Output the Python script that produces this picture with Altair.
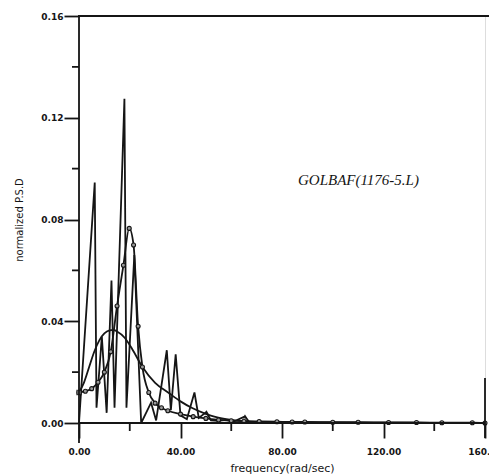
import altair as alt
import pandas as pd

# Raw periodogram (normalized PSD vs frequency, rad/sec)
raw_freq = [0.0, 6.2, 6.9, 9.0, 10.9, 12.8, 14.0, 17.9, 18.7, 21.8, 24.5, 28.4,
            30.4, 34.6, 36.2, 38.1, 40.0, 42.5, 45.5, 47.2, 50.2, 52.0, 55.0,
            58.0, 61.0, 65.4, 67.0, 72.0, 80.0, 90.0, 100.0, 120.0, 140.0, 160.0]
raw_psd = [0.0, 0.0945, 0.006, 0.034, 0.004, 0.056, 0.006, 0.1275, 0.006, 0.066,
           0.0, 0.008, 0.001, 0.0286, 0.005, 0.027, 0.003, 0.0015, 0.012, 0.002,
           0.0043, 0.001, 0.0008, 0.0012, 0.0006, 0.0026, 0.0005, 0.0004, 0.0002,
           0.0002, 0.0001, 0.0001, 0.0, 0.0]
raw_flagged = [50.2, 65.4]

# Smoothed spectrum (drawn with circle markers)
sm_freq = [0, 2.5, 5, 7.5, 10, 12.5, 15, 17.5, 19.8, 21.5, 23.3, 25, 27.5, 30,
           32.5, 35, 40, 45, 50, 55, 60, 65, 71, 78, 84, 89, 100, 110, 122, 133,
           143, 155, 160]
sm_psd = [0.012, 0.0125, 0.0135, 0.016, 0.020, 0.028, 0.046, 0.062, 0.0765, 0.070,
          0.038, 0.022, 0.012, 0.0078, 0.006, 0.0048, 0.0035, 0.0025, 0.0018,
          0.0012, 0.0009, 0.0007, 0.0006, 0.0005, 0.0004, 0.0004, 0.0003, 0.0003,
          0.0002, 0.0002, 0.0001, 0.0001, 0.0]

# Fitted model spectrum
fit_freq = [0, 2, 4, 6, 8, 10, 12, 13.5, 15, 18, 21, 25, 30, 35.4, 40, 44.4, 50,
            53.7, 60, 70, 80, 100, 130, 160]
fit_psd = [0.012, 0.016, 0.022, 0.028, 0.0325, 0.0352, 0.0364, 0.0366, 0.036,
           0.0335, 0.029, 0.022, 0.0158, 0.0118, 0.0085, 0.006, 0.0036, 0.0024,
           0.0012, 0.0004, 0.0002, 0.0001, 0.0, 0.0]

x_major = [0, 40, 80, 120, 160]
x_minor = [20, 60, 100, 140]
y_major = [0.0, 0.04, 0.08, 0.12, 0.16]
y_minor = [0.02, 0.06, 0.10, 0.14]

W, H = 406, 407
INK = "#151515"
LW = 1.8

raw = pd.DataFrame({"f": raw_freq, "p": raw_psd})
sm = pd.DataFrame({"f": sm_freq, "p": sm_psd})
fit = pd.DataFrame({"f": fit_freq, "p": fit_psd})

xs = alt.Scale(domain=[0, 160], nice=False, zero=False)
ys = alt.Scale(domain=[0, 0.16], nice=False, zero=False)

x_enc = alt.X("f:Q", scale=xs, axis=alt.Axis(
    values=x_major, format=".2f", ticks=True, tickSize=15, tickWidth=LW,
    tickColor=INK, domain=False, grid=False, labelFlush=False,
    labelFont="DejaVu Sans", labelFontSize=9, labelFontWeight="bold",
    labelColor=INK, labelPadding=9,
    title="frequency(rad/sec)", titleFont="DejaVu Sans", titleFontSize=11,
    titleFontWeight="normal", titleColor=INK, titleX=W / 2, titleY=45,
    titleBaseline="middle", titleAlign="center"))
y_enc = alt.Y("p:Q", scale=ys, axis=alt.Axis(
    values=y_major, format=".2f", ticks=True, tickSize=15, tickWidth=LW,
    tickColor=INK, domain=False, grid=False, labelFlush=False,
    labelFont="DejaVu Sans", labelFontSize=9, labelFontWeight="bold",
    labelColor=INK, labelPadding=1,
    title="normalized P.S.D", titleFont="DejaVu Sans", titleFontSize=10,
    titleFontWeight="normal", titleColor=INK, titleX=-60, titleY=H / 2,
    titleAngle=270, titleAlign="center", titleBaseline="middle"))

raw_line = alt.Chart(raw).mark_line(color=INK, strokeWidth=LW).encode(x=x_enc, y=y_enc)
raw_tri = alt.Chart(raw).transform_filter(
    alt.FieldOneOfPredicate(field="f", oneOf=raw_flagged)
).mark_point(shape="triangle-up", filled=True, color=INK, size=24).encode(
    x=alt.X("f:Q", scale=xs), y=alt.Y("p:Q", scale=ys))

sm_line = alt.Chart(sm).mark_line(color=INK, strokeWidth=LW, interpolate="monotone").encode(
    x=alt.X("f:Q", scale=xs), y=alt.Y("p:Q", scale=ys))
sm_pts = alt.Chart(sm).mark_point(shape="circle", filled=True, fill="#9a9a9a",
                                   stroke=INK, strokeWidth=1.1, size=16, opacity=1).encode(
    x=alt.X("f:Q", scale=xs), y=alt.Y("p:Q", scale=ys))

fit_line = alt.Chart(fit).mark_line(color=INK, strokeWidth=LW, interpolate="monotone").encode(
    x=alt.X("f:Q", scale=xs), y=alt.Y("p:Q", scale=ys))
fit_start = alt.Chart(fit.head(1)).mark_point(shape="square", filled=True, fill="#9a9a9a",
                                              stroke=INK, strokeWidth=1.1, size=20).encode(
    x=alt.X("f:Q", scale=xs), y=alt.Y("p:Q", scale=ys))

# Frame lines
def rule(**enc):
    return alt.Chart(pd.DataFrame({"k": [0]})).mark_rule(color=INK, strokeWidth=LW).encode(**enc)

frame = [
    rule(x=alt.value(0), y=alt.value(0), y2=alt.value(H + 20)),
    rule(y=alt.value(H), x=alt.value(-1), x2=alt.value(W)),
    rule(y=alt.value(0), x=alt.value(-1), x2=alt.value(W + 6)),
    rule(x=alt.value(W), y=alt.value(H - 45), y2=alt.value(H + 15)),
]

# Minor ticks pointing outward
xmin = alt.Chart(pd.DataFrame({"f": x_minor})).mark_rule(color=INK, strokeWidth=LW).encode(
    x=alt.X("f:Q", scale=xs), y=alt.value(H), y2=alt.value(H + 8))
ymin = alt.Chart(pd.DataFrame({"p": y_minor})).mark_rule(color=INK, strokeWidth=LW).encode(
    y=alt.Y("p:Q", scale=ys), x=alt.value(-7), x2=alt.value(0))

label = alt.Chart(pd.DataFrame({"t": ["GOLBAF(1176-5.L)"]})).mark_text(
    font="Liberation Serif", fontStyle="italic", fontSize=15, color=INK,
    align="left", baseline="middle").encode(
    x=alt.datum(86.3, scale=xs), y=alt.datum(0.0955, scale=ys), text="t:N")

chart = alt.layer(
    raw_line, fit_line, sm_line, sm_pts, raw_tri, fit_start,
    *frame, xmin, ymin, label
).properties(
    width=W, height=H,
    autosize=alt.AutoSizeParams(type="none"),
    padding={"left": 79, "top": 16, "right": 4, "bottom": 52},
).configure_view(stroke=None).configure(background="white")

chart.save("out.html", embed_options={"renderer": "svg", "actions": False})
